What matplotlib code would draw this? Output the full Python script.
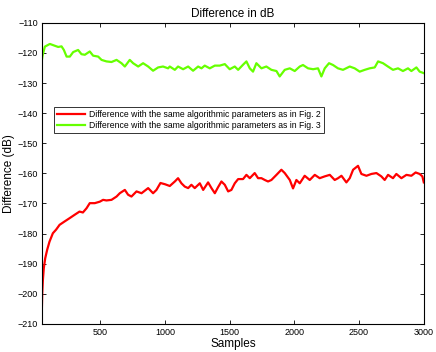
import matplotlib
matplotlib.use("Agg")
import matplotlib.pyplot as plt

plt.rcParams['font.family'] = ['Liberation Sans', 'DejaVu Sans']

title = "Difference in dB"
xlabel = "Samples"
ylabel = "Difference (dB)"
label_red = "Difference with the same algorithmic parameters as in Fig. 2"
label_green = "Difference with the same algorithmic parameters as in Fig. 3"

red_x = [50, 53, 58, 65, 76, 91, 109, 135, 160, 187, 225, 264, 302, 341, 367, 395,
         420, 459, 498, 523, 549, 588, 627, 652, 691, 716, 742, 781, 820, 871, 909,
         935, 966, 1000, 1038, 1077, 1102, 1128, 1154, 1180, 1205, 1231, 1270, 1296,
         1334, 1360, 1386, 1411, 1437, 1463, 1489, 1514, 1540, 1566, 1604, 1630, 1656,
         1694, 1720, 1746, 1772, 1797, 1823, 1862, 1900, 1926, 1965, 1990, 2016, 2042,
         2080, 2119, 2158, 2196, 2235, 2274, 2312, 2338, 2364, 2402, 2428, 2454, 2492,
         2518, 2557, 2595, 2634, 2672, 2698, 2724, 2762, 2788, 2827, 2866, 2904, 2937,
         2968, 2989, 3000]
red_y = [-205.2, -199.8, -195.4, -191.5, -188.2, -185.4, -182.7, -179.9, -178.7, -177.1,
         -176.0, -174.9, -173.8, -172.7, -173.0, -171.6, -169.9, -169.9, -169.4, -168.8,
         -169.0, -168.8, -167.7, -166.6, -165.5, -167.1, -167.7, -166.0, -166.6, -164.9,
         -166.6, -165.5, -163.2, -163.6, -164.2, -162.7, -161.6, -163.3, -164.4, -164.9,
         -163.8, -164.9, -163.3, -165.5, -163.0, -164.9, -166.6, -164.6, -162.7, -163.8,
         -166.0, -165.5, -163.3, -161.9, -161.9, -160.5, -161.6, -159.9, -161.6, -161.6,
         -162.2, -162.7, -162.2, -160.5, -158.8, -159.9, -162.2, -165.0, -162.2, -163.3,
         -160.8, -162.2, -160.5, -161.6, -161.0, -160.5, -162.2, -161.6, -160.8, -163.0,
         -161.6, -158.8, -157.5, -160.2, -160.8, -160.2, -159.9, -161.0, -162.2, -160.5,
         -161.6, -160.2, -161.6, -160.5, -160.8, -159.7, -160.2, -161.0, -163.0]

green_x = [50, 55, 73, 112, 150, 176, 202, 220, 241, 266, 292, 330, 356, 382, 420, 446,
           485, 511, 549, 588, 627, 665, 691, 729, 755, 794, 832, 871, 909, 948, 986,
           1025, 1038, 1077, 1102, 1141, 1180, 1218, 1257, 1283, 1308, 1347, 1386, 1424,
           1463, 1501, 1540, 1566, 1604, 1630, 1656, 1681, 1707, 1746, 1784, 1823, 1862,
           1887, 1926, 1965, 2003, 2042, 2067, 2106, 2145, 2183, 2209, 2235, 2268, 2299,
           2337, 2376, 2428, 2466, 2505, 2544, 2582, 2621, 2647, 2685, 2723, 2762, 2801,
           2839, 2878, 2904, 2943, 2968, 3000]
green_y = [-122.5, -121.0, -117.9, -117.0, -117.6, -118.0, -117.8, -119.0, -121.2, -121.2,
           -119.7, -119.0, -120.4, -120.6, -119.5, -120.9, -121.2, -122.3, -122.8, -123.0,
           -122.3, -123.4, -124.5, -122.3, -123.4, -124.5, -123.4, -124.5, -125.9, -124.8,
           -124.5, -125.1, -124.5, -125.6, -124.5, -125.4, -124.5, -125.9, -124.5, -125.1,
           -124.2, -125.1, -124.2, -124.2, -123.7, -125.4, -124.5, -125.6, -123.9, -122.8,
           -125.1, -126.2, -123.4, -125.1, -124.5, -125.6, -126.0, -127.8, -125.6, -125.1,
           -126.0, -124.5, -124.0, -125.1, -125.4, -125.1, -127.8, -125.1, -123.4, -124.0,
           -125.1, -125.6, -124.5, -125.1, -126.2, -125.6, -125.1, -124.8, -122.8, -123.4,
           -124.5, -125.6, -125.1, -126.0, -125.1, -126.0, -124.8, -126.2, -126.7]

xticks = [500, 1000, 1500, 2000, 2500, 3000]
yticks = list(range(-210, -109, 10))

fig = plt.figure(figsize=(4.36, 3.52), dpi=100)
ax = fig.add_axes([0.096, 0.080, 0.876, 0.855])
ax.plot(red_x, red_y, color='#ff0000', lw=1.6, label=label_red)
ax.plot(green_x, green_y, color='#66ff00', lw=1.6, label=label_green)

ax.set_xlim(50, 3000)
ax.set_ylim(-210, -110)
ax.set_xticks(xticks)
ax.set_yticks(yticks)
ax.tick_params(direction='in', length=3, width=0.6, labelsize=6.5, top=True, right=True, pad=3)
for s in ax.spines.values():
    s.set_linewidth(0.8)
ax.set_title(title, fontsize=8.5, pad=4)
ax.set_xlabel(xlabel, fontsize=8.5, labelpad=1)
ax.set_ylabel(ylabel, fontsize=8.5, labelpad=2)

leg = ax.legend(loc='upper left', bbox_to_anchor=(0.032, 0.722), fontsize=6.2,
                frameon=True, fancybox=False, edgecolor='black', handlelength=3.2,
                borderpad=0.35, labelspacing=0.3, handletextpad=0.5, borderaxespad=0)
leg.get_frame().set_linewidth(0.7)

fig.savefig('out.png', dpi=100)
